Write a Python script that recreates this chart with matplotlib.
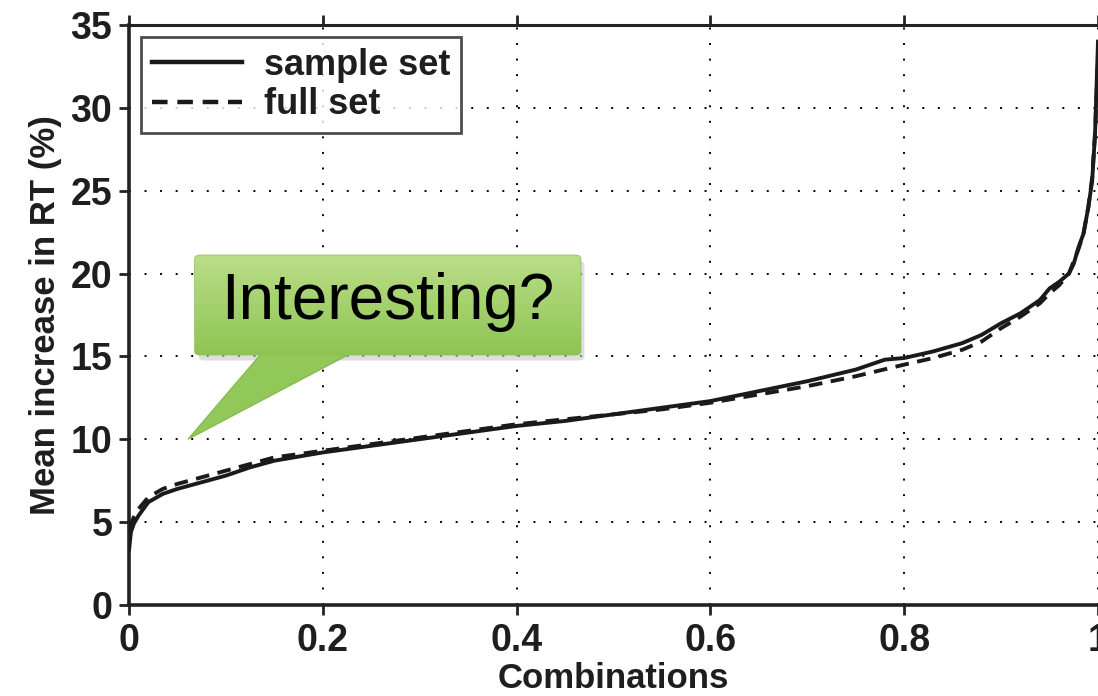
import matplotlib.pyplot as plt
import numpy as np
from matplotlib.patches import FancyBboxPatch, Polygon

plt.rcParams["font.family"] = ["Liberation Sans", "DejaVu Sans"]
plt.rcParams["font.weight"] = "bold"
plt.rcParams["axes.labelweight"] = "bold"

# curve values
SAMPLE_X = [0.0, 0.002, 0.005, 0.01, 0.02, 0.035, 0.05, 0.075, 0.1, 0.125, 0.15, 0.2, 0.25,
            0.3, 0.35, 0.4, 0.45, 0.5, 0.55, 0.6, 0.65, 0.7, 0.75, 0.78, 0.8, 0.83,
            0.86, 0.88, 0.9, 0.92, 0.94, 0.95, 0.96, 0.97, 0.975, 0.98, 0.985,
            0.99, 0.994, 0.997, 1.0]
SAMPLE_Y = [3.3, 4.4, 4.9, 5.4, 6.2, 6.7, 7.0, 7.4, 7.8, 8.3, 8.7, 9.2, 9.6,
            10.0, 10.4, 10.8, 11.1, 11.5, 11.9, 12.3, 12.9, 13.5, 14.2, 14.8, 14.9, 15.3,
            15.8, 16.3, 17.0, 17.6, 18.4, 19.1, 19.5, 20.0, 20.6, 21.6, 22.4,
            24.0, 25.6, 28.5, 34.0]
FULL_X = [0.0, 0.005, 0.01, 0.02, 0.035, 0.05, 0.075, 0.1, 0.125, 0.15, 0.2, 0.25,
          0.3, 0.35, 0.4, 0.45, 0.5, 0.55, 0.6, 0.65, 0.7, 0.75, 0.8, 0.83, 0.86,
          0.88, 0.9, 0.92, 0.94, 0.95, 0.96, 0.97, 0.98, 0.985, 0.99, 0.994,
          0.997, 1.0]
FULL_Y = [4.6, 5.3, 5.8, 6.5, 7.0, 7.3, 7.7, 8.1, 8.5, 8.9, 9.3, 9.7,
          10.1, 10.5, 10.9, 11.2, 11.5, 11.8, 12.2, 12.7, 13.2, 13.8, 14.5, 14.9, 15.4,
          15.9, 16.7, 17.4, 18.2, 18.8, 19.3, 20.0, 21.5, 22.4, 24.0, 25.8,
          28.5, 33.0]
X_TICKS = [0, 0.2, 0.4, 0.6, 0.8, 1]
X_TICK_LABELS = ["0", "0.2", "0.4", "0.6", "0.8", "1"]
Y_TICKS = [0, 5, 10, 15, 20, 25, 30, 35]

fig = plt.figure(figsize=(10.98, 6.96), dpi=100)
ax = fig.add_axes([0.1175, 0.131, 0.8825, 0.833])

ax.plot(SAMPLE_X, SAMPLE_Y, color="#1a1a1a", lw=2.8, label="sample set", zorder=4)
ax.plot(FULL_X, FULL_Y, color="#1a1a1a", lw=2.8, ls=(0, (3.5, 2.2)), label="full set", zorder=3)

ax.set_xlim(0, 1)
ax.set_ylim(0, 35)
ax.set_xticks(X_TICKS)
ax.set_xticklabels(X_TICK_LABELS)
ax.set_yticks(Y_TICKS)
ax.tick_params(axis="both", labelsize=27, width=2, length=7, direction="out",
               color="#222222", labelcolor="#1e1e1e")
ax.tick_params(axis="x", top=True, pad=6)
ax.tick_params(axis="y", pad=5)
ax.grid(True, color="black", ls=(0, (1, 7)), lw=1.4)

for side in ["left", "bottom"]:
    ax.spines[side].set_linewidth(2.6)
    ax.spines[side].set_color("#222222")
ax.spines["top"].set_linewidth(2.2)
ax.spines["top"].set_color("#222222")
ax.spines["right"].set_visible(False)

ax.set_xlabel("Combinations", fontsize=25, labelpad=2, color="#1e1e1e")
ax.set_ylabel("Mean increase in RT (%)", fontsize=25, labelpad=6, color="#1e1e1e")

leg = ax.legend(loc="upper left", fontsize=26, frameon=True, fancybox=False,
                edgecolor="#222222", handlelength=2.5, borderpad=0.3,
                labelspacing=0.12, handletextpad=0.6, borderaxespad=0,
                bbox_to_anchor=(0.0124, 0.979))
leg.get_frame().set_linewidth(2)
for t in leg.get_texts():
    t.set_color("#1e1e1e")
for h in leg.get_lines():
    h.set_linewidth(3.2)

# callout box
x0, x1, y0, y1 = 0.068, 0.466, 15.1, 21.1
shadow = FancyBboxPatch((x0 + 0.004, y0 - 0.35), x1 - x0, y1 - y0,
                        boxstyle="round,pad=0,rounding_size=0.006",
                        fc="#c8c8c8", ec="none", alpha=0.6, zorder=5,
                        mutation_aspect=35)
ax.add_patch(shadow)
pointer = Polygon([[0.14, 15.4], [0.236, 15.4], [0.061, 10.0]], closed=True,
                  fc="#92c85a", ec="#86bb4e", lw=1, zorder=6)
ax.add_patch(pointer)
box = FancyBboxPatch((x0, y0), x1 - x0, y1 - y0,
                     boxstyle="round,pad=0,rounding_size=0.006",
                     fc="#9fd163", ec="#8dbf52", lw=1, zorder=6, mutation_aspect=35)
ax.add_patch(box)
grad = np.linspace(0, 1, 100).reshape(-1, 1)
top_c = np.array([0.73, 0.87, 0.53])
bot_c = np.array([0.56, 0.77, 0.33])
img = top_c * (1 - grad[..., None]) + bot_c * grad[..., None]
im = ax.imshow(img, extent=[x0, x1, y0, y1], origin="upper", aspect="auto", zorder=6.5)
im.set_clip_path(box)
ax.text((x0 + x1) / 2, 18.3, "Interesting?", fontsize=46, fontweight="normal",
        ha="center", va="center", color="black", zorder=7)
ax.set_xlim(0, 1)
ax.set_ylim(0, 35)

fig.savefig("out.png", dpi=100)
